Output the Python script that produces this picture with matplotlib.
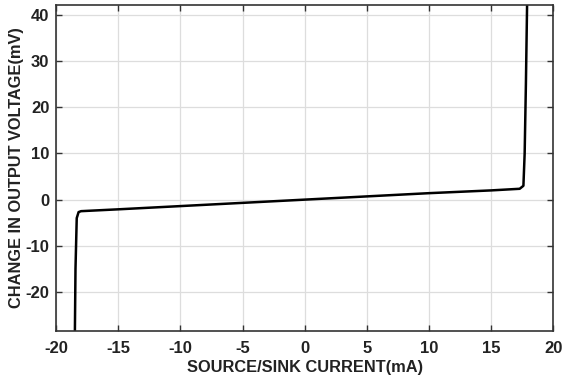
import matplotlib
matplotlib.use('Agg')
import matplotlib.pyplot as plt
import numpy as np

plt.rcParams['font.family'] = ['Liberation Sans', 'DejaVu Sans']
plt.rcParams['font.weight'] = 'bold'
plt.rcParams['axes.unicode_minus'] = False

# curve
current_ma = [-18.5, -18.45, -18.35, -18.2, -18.0, -15, -10, -5, 0, 5, 10, 15, 17.3, 17.6, 17.7, 17.8, 17.9]
delta_mv = [-29, -15, -4.0, -2.7, -2.5, -2.1, -1.4, -0.7, 0.0, 0.7, 1.4, 2.0, 2.35, 3.0, 10, 25, 43]

x_ticks = [-20, -15, -10, -5, 0, 5, 10, 15, 20]
y_ticks = [-20, -10, 0, 10, 20, 30, 40]

fig, ax = plt.subplots(figsize=(5.68, 3.78), dpi=100)
fig.subplots_adjust(left=0.099, right=0.974, top=0.987, bottom=0.124)

ax.plot(current_ma, delta_mv, color='black', linewidth=1.8)

ax.set_xlim(-20, 20)
ax.set_ylim(-28.5, 42.2)
ax.set_xticks(x_ticks)
ax.set_yticks(y_ticks)
ax.grid(True, color='#dddddd', linewidth=0.9)
ax.tick_params(direction='in', top=True, right=True, length=4, width=1,
               labelsize=12, color='#333333')
ax.tick_params(axis='x', pad=7)
ax.tick_params(axis='y', pad=5)
for s in ax.spines.values():
    s.set_color('#333333')
    s.set_linewidth(1.2)

ax.set_xlabel('SOURCE/SINK CURRENT(mA)', fontsize=11.8, fontweight='bold', labelpad=3, color='#222222')
ax.set_ylabel('CHANGE IN OUTPUT VOLTAGE(mV)', fontsize=11.8, fontweight='bold', labelpad=1, color='#222222')
for lbl in ax.get_xticklabels() + ax.get_yticklabels():
    lbl.set_fontweight('bold')
    lbl.set_color('#222222')

fig.savefig('out.png', dpi=100)
